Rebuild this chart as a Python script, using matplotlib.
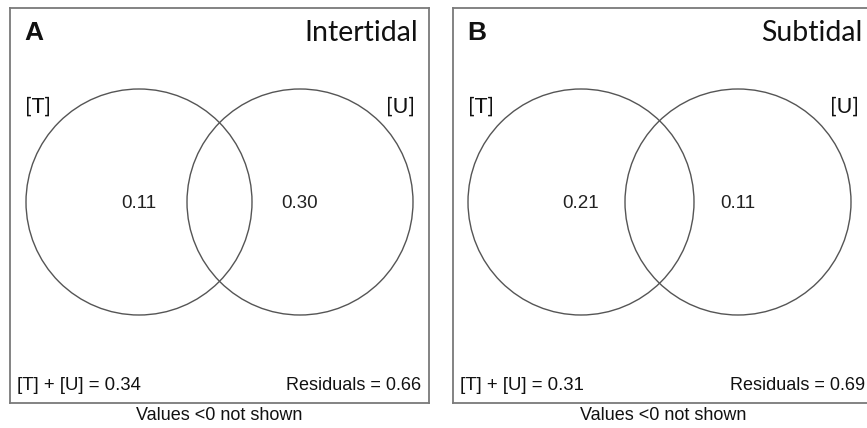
import numpy as np
from matplotlib import pyplot as plt
from matplotlib.patches import Circle

# data
panel_tags = ["A", "B"]
habitats = ["Intertidal", "Subtidal"]
set_names = ["[T]", "[U]"]
unique_T = [0.11, 0.21]
unique_U = [0.30, 0.11]
explained = [0.34, 0.31]
residuals = [0.66, 0.69]

W, H = 867, 428
fig = plt.figure(figsize=(W / 100, H / 100), dpi=100)

# layout in pixels: box left, box width, circle centres (local x)
boxes = [(10, 419, (129, 290)), (453, 420, (128, 285))]
box_top, box_bottom = 8, 403
radius = 113
cy = 194

title_font = "Lato"
num_font = "Liberation Sans"

for i in range(2):
    left, bw, centres = boxes[i]
    bh = box_bottom - box_top
    ax = fig.add_axes([left / W, 1 - box_bottom / H, bw / W, bh / H])
    ax.set_xlim(0, bw)
    ax.set_ylim(bh, 0)
    ax.set_xticks([])
    ax.set_yticks([])
    for s in ax.spines.values():
        s.set_color("#7a7a7a")
        s.set_linewidth(1.3)

    for cx in centres:
        ax.add_patch(Circle((cx, cy), radius, fill=False, ec="#555555", lw=1.0))

    ax.text(centres[0], cy + 1, f"{unique_T[i]:.2f}", ha="center", va="center",
            fontsize=13.5, family=num_font, color="#222222")
    ax.text(centres[1], cy + 1, f"{unique_U[i]:.2f}", ha="center", va="center",
            fontsize=13.5, family=num_font, color="#222222")

    ax.text(14, 25, panel_tags[i], ha="left", va="center", fontsize=19,
            fontweight="bold", family=num_font, color="#111111")
    ax.text(bw - 11, 25, habitats[i], ha="right", va="center", fontsize=20.5,
            family=title_font, color="#111111")
    ax.text(15, 99, set_names[0], ha="left", va="center", fontsize=15.5,
            family=title_font, color="#111111")
    ax.text(bw - 14, 99, set_names[1], ha="right", va="center", fontsize=15.5,
            family=title_font, color="#111111")

    ax.text(7, 377, f"{set_names[0]} + {set_names[1]} = {explained[i]:.2f}",
            ha="left", va="center", fontsize=13.4, family=num_font, color="#111111")
    ax.text(bw - 8, 377, f"Residuals = {residuals[i]:.2f}", ha="right",
            va="center", fontsize=13, family=num_font, color="#111111")

    fig.text((left + bw / 2) / W, 1 - 416 / H, "Values <0 not shown", ha="center",
             va="center", fontsize=13, family=num_font, color="#111111")

fig.savefig("out.png", dpi=100)
